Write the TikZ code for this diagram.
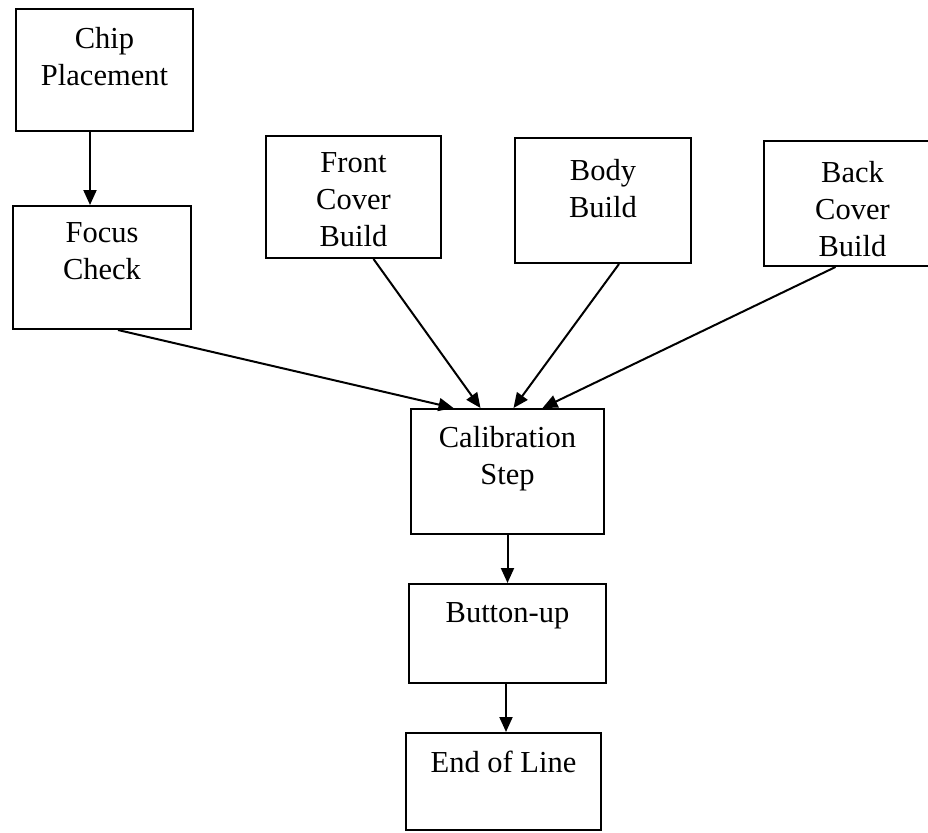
\documentclass[tikz,border=0pt]{standalone}
\usepackage{fontspec}
\setmainfont{Liberation Serif}
\usetikzlibrary{arrows.meta,calc}
\begin{document}
\begin{tikzpicture}[x=1pt,y=-1pt,
  box/.style={draw=black,line width=2pt,rectangle,inner sep=0pt},
  lbl/.style={inner sep=0pt,align=center,anchor=north,font=\fontsize{30.5}{37}\selectfont},
  arr/.style={line width=2pt,-{Triangle[length=15pt,width=13pt]}}]
\useasboundingbox (0,0) rectangle (928,832);
\fill[white] (0,0) rectangle (928,832);
% boxes
\node[box,minimum width=177pt,minimum height=122pt,anchor=north west] (chip) at (15,8) {};
\node[box,minimum width=178pt,minimum height=123pt,anchor=north west] (focus) at (12,205) {};
\node[box,minimum width=175pt,minimum height=122pt,anchor=north west] (front) at (265,135) {};
\node[box,minimum width=176pt,minimum height=125pt,anchor=north west] (body) at (514,137) {};
\node[box,minimum width=177pt,minimum height=125pt,anchor=north west] (back) at (763,140) {};
\node[box,minimum width=193pt,minimum height=125pt,anchor=north west] (calib) at (410,408) {};
\node[box,minimum width=197pt,minimum height=99pt,anchor=north west] (button) at (408,583) {};
\node[box,minimum width=195pt,minimum height=97pt,anchor=north west] (endline) at (405,732) {};
% labels
\node[lbl] (chipT) at ([yshift=-19pt]chip.north) {Chip\\Placement};
\node[lbl] (focusT) at ([yshift=-17pt]focus.north) {Focus\\Check};
\node[lbl] (frontT) at ([yshift=-17pt]front.north) {Front\\Cover\\Build};
\node[lbl] (bodyT) at ([yshift=-22pt]body.north) {Body\\Build};
\node[lbl] (backT) at ([yshift=-21pt]back.north) {Back\\Cover\\Build};
\node[lbl] (calibT) at ([yshift=-18pt]calib.north) {Calibration\\Step};
\node[lbl] (buttonT) at ([yshift=-19pt]button.north) {Button-up};
\node[lbl] (endT) at ([yshift=-19pt]endline.north) {End of Line};
% connectors
\draw[arr] ([xshift=-14.5pt]chip.south) -- ([xshift=-14.5pt]chip.south |- focus.north);
\draw[arr] ([xshift=16pt]focus.south) -- ([xshift=-54pt]calib.north);
\draw[arr] ([xshift=20pt]front.south) -- ([xshift=-27pt]calib.north);
\draw[arr] ([xshift=16pt]body.south) -- ([xshift=6pt]calib.north);
\draw[arr] ([xshift=-17pt]back.south) -- ([xshift=35pt]calib.north);
\draw[arr] (calib.south) -- (calib.south |- button.north);
\draw[arr] ([xshift=-1.5pt]button.south) -- ([xshift=-1.5pt]button.south |- endline.north);
\end{tikzpicture}
\end{document}
